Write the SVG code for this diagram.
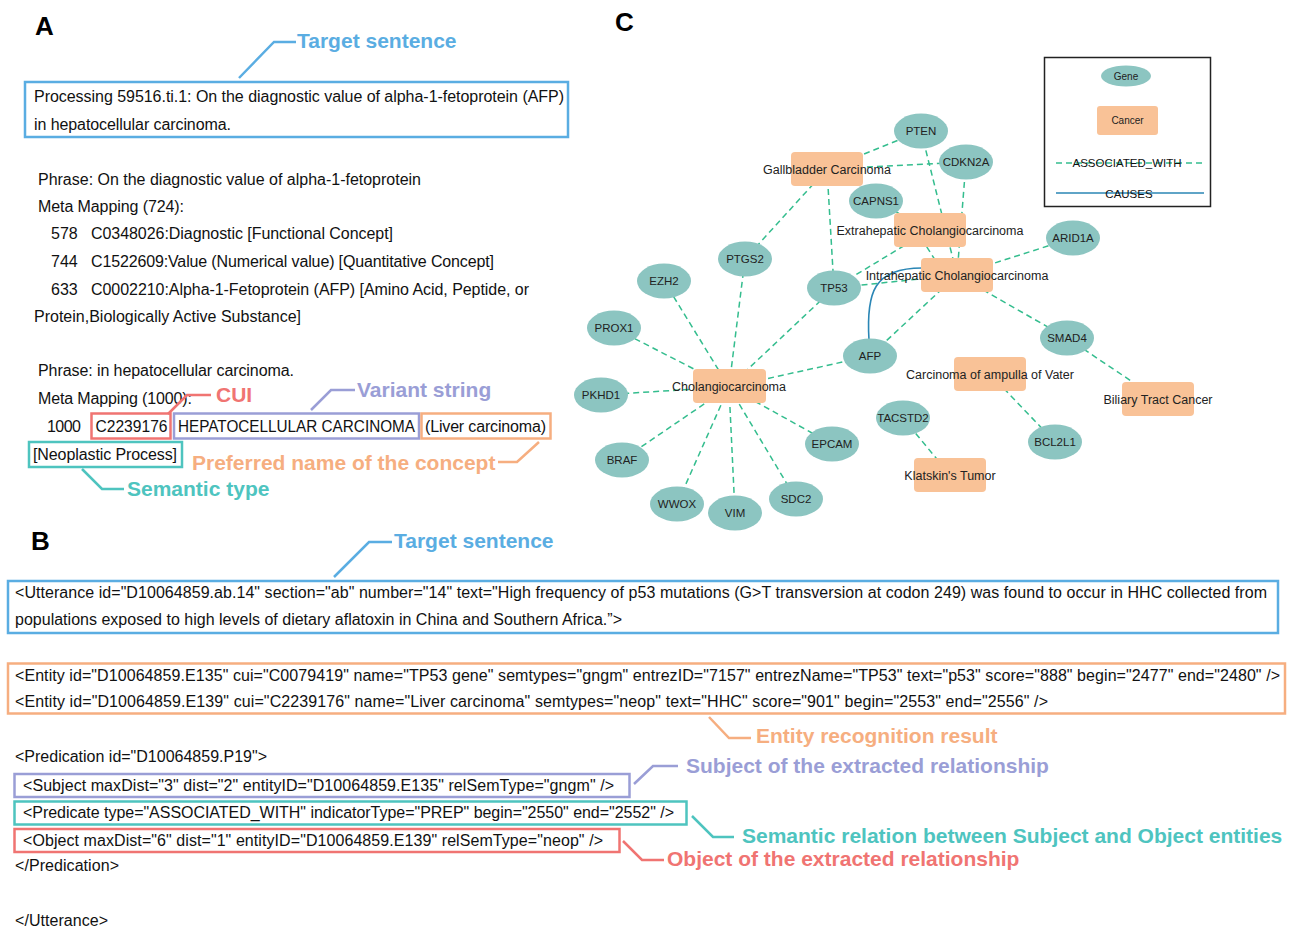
<svg xmlns="http://www.w3.org/2000/svg" width="1295" height="929" viewBox="0 0 1295 929">
<style>
text{font-family:"Liberation Sans",Arial,Helvetica,sans-serif;fill:#111}
.t{font-size:16px}
.pl{font-size:26px;font-weight:bold;fill:#000}
.ann{font-size:21px;font-weight:bold}
.blue{fill:#5aade2}.red{fill:#f07472}.pur{fill:#9a9ed6}.ora{fill:#f6ae80}.tea{fill:#4ec4bf}
.bb{fill:none;stroke:#5aade2;stroke-width:2.5}
.br{fill:none;stroke:#f07472;stroke-width:2.5}
.bp{fill:none;stroke:#9a9ed6;stroke-width:2.5}
.bo{fill:none;stroke:#f6ae80;stroke-width:2.5}
.bt{fill:none;stroke:#4ec4bf;stroke-width:2.5}
.gene{fill:#8cc5c1}
.canc{fill:#f9c297}
.gl{font-size:11.5px;text-anchor:middle;fill:#222}
.cl{font-size:12.5px;text-anchor:middle;fill:#222}
.lg{font-size:10px;text-anchor:middle;fill:#222}
.le{font-size:11.5px;text-anchor:middle;fill:#111}
.assoc{stroke:#34bd8e;stroke-width:1.5;stroke-dasharray:6 4;fill:none}
.cause{stroke:#2a86b5;stroke-width:1.6;fill:none}
</style>

<!-- Panel A -->
<g id="panelA">
<text class="pl" x="35" y="35">A</text>
<g id="a-target">
<polyline class="bb" points="239,78 274,42 296,42"/>
<text class="ann blue" x="297" y="48">Target sentence</text>
<rect class="bb" x="25" y="82" width="543" height="55"/>
<text class="t" x="34" y="102" textLength="530">Processing 59516.ti.1: On the diagnostic value of alpha-1-fetoprotein (AFP)</text>
<text class="t" x="34" y="129.5" textLength="197">in hepatocellular carcinoma.</text>
</g>
<text class="t" x="38" y="185" textLength="383">Phrase: On the diagnostic value of alpha-1-fetoprotein</text>
<text class="t" x="38" y="211.5" textLength="146">Meta Mapping (724):</text>
<text class="t" x="51" y="238.5">578</text><text class="t" x="91" y="238.5" textLength="302">C0348026:Diagnostic [Functional Concept]</text>
<text class="t" x="51" y="266.5">744</text><text class="t" x="91" y="266.5" textLength="403">C1522609:Value (Numerical value) [Quantitative Concept]</text>
<text class="t" x="51" y="294.5">633</text><text class="t" x="91" y="294.5" textLength="438">C0002210:Alpha-1-Fetoprotein (AFP) [Amino Acid, Peptide, or</text>
<text class="t" x="34" y="321.5" textLength="267">Protein,Biologically Active Substance]</text>
<text class="t" x="38" y="376" textLength="256">Phrase: in hepatocellular carcinoma.</text>
<text class="t" x="38" y="403.5" textLength="154">Meta Mapping (1000):</text>
<text class="t" x="47" y="431.5" textLength="34">1000</text>
<g id="a-cui">
<rect class="br" x="91.5" y="413.5" width="79" height="25"/>
<text class="t" x="95.5" y="431.5" textLength="72" lengthAdjust="spacingAndGlyphs">C2239176</text>
<polyline class="br" points="168,414 187,395 211,395"/>
<text class="ann red" x="216" y="401.5">CUI</text>
</g>
<g id="a-variant">
<rect class="bp" x="174" y="413.5" width="245" height="25"/>
<text class="t" x="178" y="431.5" textLength="237" lengthAdjust="spacingAndGlyphs">HEPATOCELLULAR CARCINOMA</text>
<polyline class="bp" points="311,410 331,390 355,390"/>
<text class="ann pur" x="357" y="397">Variant string</text>
</g>
<g id="a-preferred">
<rect class="bo" x="421.5" y="413.5" width="129" height="25"/>
<text class="t" x="425" y="431.5" textLength="121">(Liver carcinoma)</text>
<polyline class="bo" points="539,442 517,462 498,462"/>
<text class="ann ora" x="192" y="470">Preferred name of the concept</text>
</g>
<g id="a-semtype">
<rect class="bt" x="29" y="442" width="153" height="25"/>
<text class="t" x="33" y="459.5" textLength="144">[Neoplastic Process]</text>
<polyline class="bt" points="82,469 102,489 124,489"/>
<text class="ann tea" x="127" y="496">Semantic type</text>
</g>
</g>

<!-- Panel B -->
<g id="panelB">
<text class="pl" x="31" y="550">B</text>
<g id="b-target">
<polyline class="bb" points="334,577 369,542 392,542"/>
<text class="ann blue" x="394" y="548">Target sentence</text>
<rect class="bb" x="8" y="581" width="1270" height="52"/>
<text class="t" x="15" y="598" textLength="1252">&lt;Utterance id="D10064859.ab.14" section="ab" number="14" text="High frequency of p53 mutations (G&gt;T transversion at codon 249) was found to occur in HHC collected from</text>
<text class="t" x="15" y="624.5" textLength="607">populations exposed to high levels of dietary aflatoxin in China and Southern Africa.”&gt;</text>
</g>
<g id="b-entity">
<rect class="bo" x="8" y="663.5" width="1277" height="50"/>
<text class="t" x="15" y="681" textLength="1265">&lt;Entity id="D10064859.E135" cui="C0079419" name="TP53 gene" semtypes="gngm" entrezID="7157" entrezName="TP53" text="p53" score="888" begin="2477" end="2480" /&gt;</text>
<text class="t" x="15" y="707" textLength="1033">&lt;Entity id="D10064859.E139" cui="C2239176" name="Liver carcinoma" semtypes="neop" text="HHC" score="901" begin="2553" end="2556" /&gt;</text>
<polyline class="bo" points="709,717 729,738 751,738"/>
<text class="ann ora" x="756" y="743">Entity recognition result</text>
</g>
<text class="t" x="15" y="762" textLength="252">&lt;Predication id="D10064859.P19"&gt;</text>
<g id="b-subject">
<rect class="bp" x="14.5" y="774" width="615" height="23"/>
<text class="t" x="23" y="790.5" textLength="591">&lt;Subject maxDist="3" dist="2" entityID="D10064859.E135" relSemType="gngm" /&gt;</text>
<polyline class="bp" points="634,784 653,766 678,766"/>
<text class="ann pur" x="686" y="773">Subject of the extracted relationship</text>
</g>
<g id="b-predicate">
<rect class="bt" x="14.5" y="801.5" width="672" height="23"/>
<text class="t" x="23" y="818" textLength="651">&lt;Predicate type="ASSOCIATED_WITH" indicatorType="PREP" begin="2550" end="2552" /&gt;</text>
<polyline class="bt" points="692,816 713,837 734,837"/>
<text class="ann tea" x="742" y="843">Semantic relation between Subject and Object entities</text>
</g>
<g id="b-object">
<rect class="br" x="14.5" y="829" width="605" height="23"/>
<text class="t" x="23" y="845.5" textLength="580">&lt;Object maxDist="6" dist="1" entityID="D10064859.E139" relSemType="neop" /&gt;</text>
<polyline class="br" points="623,841 642,860 664,860"/>
<text class="ann red" x="667" y="866">Object of the extracted relationship</text>
</g>
<text class="t" x="15" y="871" textLength="104">&lt;/Predication&gt;</text>
<text class="t" x="15" y="926" textLength="93">&lt;/Utterance&gt;</text>
</g>

<!-- Panel C -->
<text class="pl" x="615" y="31">C</text>

<g id="connectors">
<line class="assoc" x1="827" y1="169" x2="921" y2="131"/>
<line class="assoc" x1="827" y1="169" x2="966" y2="162"/>
<line class="assoc" x1="827" y1="169" x2="745" y2="259"/>
<line class="assoc" x1="827" y1="169" x2="834" y2="288"/>
<line class="assoc" x1="921" y1="131" x2="957" y2="275"/>
<line class="assoc" x1="966" y1="162" x2="957" y2="275"/>
<line class="assoc" x1="876" y1="201" x2="930" y2="230"/>
<line class="assoc" x1="916" y1="230" x2="946" y2="277"/>
<line class="assoc" x1="930" y1="230" x2="834" y2="288"/>
<line class="assoc" x1="957" y1="275" x2="834" y2="288"/>
<line class="assoc" x1="957" y1="275" x2="870" y2="356"/>
<line class="assoc" x1="957" y1="275" x2="1073" y2="238"/>
<line class="assoc" x1="957" y1="275" x2="1067" y2="338"/>
<line class="assoc" x1="1067" y1="338" x2="1158" y2="399"/>
<line class="assoc" x1="990" y1="374" x2="1055" y2="442"/>
<line class="assoc" x1="903" y1="418" x2="950" y2="475"/>
<line class="assoc" x1="729" y1="387" x2="745" y2="259"/>
<line class="assoc" x1="729" y1="387" x2="664" y2="281"/>
<line class="assoc" x1="729" y1="387" x2="614" y2="328"/>
<line class="assoc" x1="729" y1="387" x2="601" y2="395"/>
<line class="assoc" x1="729" y1="387" x2="622" y2="460"/>
<line class="assoc" x1="729" y1="387" x2="677" y2="504"/>
<line class="assoc" x1="729" y1="387" x2="735" y2="513"/>
<line class="assoc" x1="729" y1="387" x2="796" y2="499"/>
<line class="assoc" x1="729" y1="387" x2="832" y2="444"/>
<line class="assoc" x1="729" y1="387" x2="870" y2="356"/>
<line class="assoc" x1="729" y1="387" x2="834" y2="288"/>
<path class="cause" d="M869 340 C866 292 874 268 922 268"/>
</g>

<g id="n-gallbladder"><rect class="canc" x="791" y="152" width="72" height="34" rx="4"/><text class="cl" x="827" y="173.5">Gallbladder Carcinoma</text></g>
<g id="n-extrahepatic"><rect class="canc" x="894" y="213" width="72" height="34" rx="4"/><text class="cl" x="930" y="234.5">Extrahepatic Cholangiocarcinoma</text></g>
<g id="n-intrahepatic"><rect class="canc" x="921" y="258" width="72" height="34" rx="4"/><text class="cl" x="957" y="279.5">Intrahepatic Cholangiocarcinoma</text></g>
<g id="n-cholangio"><rect class="canc" x="693" y="369" width="73" height="34" rx="4"/><text class="cl" x="729" y="390.5">Cholangiocarcinoma</text></g>
<g id="n-ampulla"><rect class="canc" x="954" y="357" width="72" height="34" rx="4"/><text class="cl" x="990" y="378.5">Carcinoma of ampulla of Vater</text></g>
<g id="n-biliary"><rect class="canc" x="1122" y="382" width="72" height="34" rx="4"/><text class="cl" x="1158" y="403.5">Biliary Tract Cancer</text></g>
<g id="n-klatskin"><rect class="canc" x="914" y="458" width="72" height="34" rx="4"/><text class="cl" x="950" y="479.5">Klatskin's Tumor</text></g>

<g id="n-pten"><ellipse class="gene" cx="921" cy="131" rx="27" ry="17.5"/><text class="gl" x="921" y="135">PTEN</text></g>
<g id="n-cdkn2a"><ellipse class="gene" cx="966" cy="162" rx="27" ry="17.5"/><text class="gl" x="966" y="166">CDKN2A</text></g>
<g id="n-capns1"><ellipse class="gene" cx="876" cy="201" rx="27" ry="17.5"/><text class="gl" x="876" y="205">CAPNS1</text></g>
<g id="n-arid1a"><ellipse class="gene" cx="1073" cy="238" rx="27" ry="17.5"/><text class="gl" x="1073" y="242">ARID1A</text></g>
<g id="n-ptgs2"><ellipse class="gene" cx="745" cy="259" rx="27" ry="17.5"/><text class="gl" x="745" y="263">PTGS2</text></g>
<g id="n-ezh2"><ellipse class="gene" cx="664" cy="281" rx="27" ry="17.5"/><text class="gl" x="664" y="285">EZH2</text></g>
<g id="n-tp53"><ellipse class="gene" cx="834" cy="288" rx="27" ry="17.5"/><text class="gl" x="834" y="292">TP53</text></g>
<g id="n-prox1"><ellipse class="gene" cx="614" cy="328" rx="27" ry="17.5"/><text class="gl" x="614" y="332">PROX1</text></g>
<g id="n-afp"><ellipse class="gene" cx="870" cy="356" rx="27" ry="17.5"/><text class="gl" x="870" y="360">AFP</text></g>
<g id="n-smad4"><ellipse class="gene" cx="1067" cy="338" rx="27" ry="17.5"/><text class="gl" x="1067" y="342">SMAD4</text></g>
<g id="n-pkhd1"><ellipse class="gene" cx="601" cy="395" rx="27" ry="17.5"/><text class="gl" x="601" y="399">PKHD1</text></g>
<g id="n-tacstd2"><ellipse class="gene" cx="903" cy="418" rx="27" ry="17.5"/><text class="gl" x="903" y="422">TACSTD2</text></g>
<g id="n-bcl2l1"><ellipse class="gene" cx="1055" cy="442" rx="27" ry="17.5"/><text class="gl" x="1055" y="446">BCL2L1</text></g>
<g id="n-epcam"><ellipse class="gene" cx="832" cy="444" rx="27" ry="17.5"/><text class="gl" x="832" y="448">EPCAM</text></g>
<g id="n-braf"><ellipse class="gene" cx="622" cy="460" rx="27" ry="17.5"/><text class="gl" x="622" y="464">BRAF</text></g>
<g id="n-sdc2"><ellipse class="gene" cx="796" cy="499" rx="27" ry="17.5"/><text class="gl" x="796" y="503">SDC2</text></g>
<g id="n-wwox"><ellipse class="gene" cx="677" cy="504" rx="27" ry="17.5"/><text class="gl" x="677" y="508">WWOX</text></g>
<g id="n-vim"><ellipse class="gene" cx="735" cy="513" rx="27" ry="17.5"/><text class="gl" x="735" y="517">VIM</text></g>

<g id="legend">
<rect x="1044.5" y="57.5" width="166" height="149" fill="none" stroke="#222" stroke-width="1.5"/>
<ellipse class="gene" cx="1126" cy="76" rx="25" ry="10.5"/>
<text class="lg" x="1126" y="79.5">Gene</text>
<rect class="canc" x="1097" y="106" width="61" height="29" rx="3"/>
<text class="lg" x="1127.5" y="124">Cancer</text>
<line class="assoc" x1="1056" y1="163" x2="1202" y2="163"/>
<text class="le" x="1127" y="167">ASSOCIATED_WITH</text>
<line class="cause" x1="1056" y1="193" x2="1204" y2="193"/>
<text class="le" x="1129" y="197.5">CAUSES</text>
</g>
</svg>
